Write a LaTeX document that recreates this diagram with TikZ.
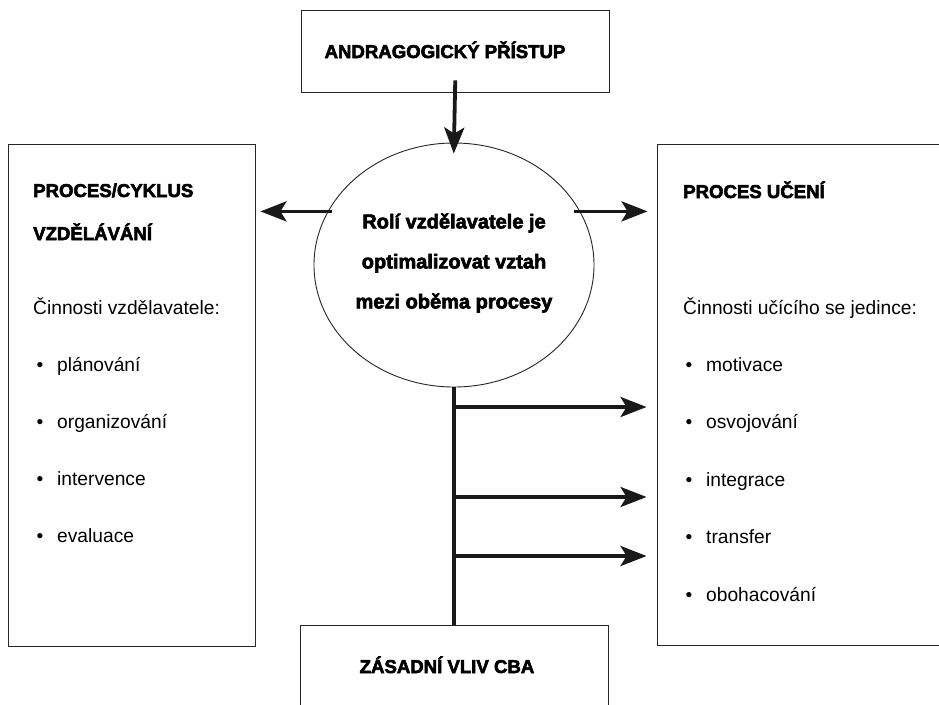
\documentclass[tikz,border=0pt]{standalone}
\usepackage{fontspec}
\setmainfont{Liberation Sans}
\newfontfamily\heavyfont[FakeBold=3]{Liberation Sans}
\usetikzlibrary{
    arrows.meta,
    positioning,
    shapes.geometric
}
\tikzset{
  frame/.style  = {draw=black!85, line width=0.9pt, inner sep=0pt},
  head/.style   = {font=\heavyfont\bfseries\fontsize{18.6}{22}\selectfont,
                   anchor=base west, inner sep=0pt},
  txt/.style    = {font=\fontsize{19.2}{22}\selectfont, anchor=base west,
                   inner sep=0pt},
  dot/.style    = {font=\fontsize{19.2}{22}\selectfont, anchor=base,
                   inner sep=0pt},
  arr/.style    = {-{Stealth[length=26pt, width=20pt, inset=6pt]},
                   line width=3.8pt, black!90},
  link/.style   = {line width=3.8pt, black!90}
}

\begin{document}
\begin{tikzpicture}[x=1pt, y=-1pt]
  \useasboundingbox (0,0) rectangle (939,704);
  \clip (0,0) rectangle (939,704);

  \node[frame, minimum width=308pt, minimum height=82pt] (top) at (455,51) {};
  \node[head, anchor=base] (toptxt) at (445,58) {ANDRAGOGICKÝ PŘÍSTUP};

  \node[frame, ellipse, minimum width=280pt, minimum height=244pt] (role)
       at (454,265) {};
  \node[align=center, inner sep=0pt,
        font=\heavyfont\bfseries\fontsize{20}{40}\selectfont] (roletxt)
       at (454,263) {Rolí vzdělavatele je\\optimalizovat vztah\\mezi oběma procesy};

  \node[frame, minimum width=247pt, minimum height=502pt] (lbox) at (131.5,395) {};
  \node[frame, minimum width=300pt, minimum height=501pt] (rbox) at (807,394.5) {};
  \node[frame, minimum width=308pt, minimum height=94pt] (bot) at (454,672) {};
  \node[head, anchor=base] (bottxt) at (447,673) {ZÁSADNÍ VLIV CBA};

  % left box
  \node[head] (lh1) at (33,197) {PROCES/CYKLUS};
  \node[head] (lh2) at (33,240) {VZDĚLÁVÁNÍ};
  \node[txt] (lsub) at (33,314) {Činnosti vzdělavatele:};
  \foreach \item [count=\i] in {plánování, organizování, intervence, evaluace}
  {
    \node[dot] (ld\i) at (40,371+57.3*\i-57.3) {•};
    \node[txt] (li\i) at (57,371+57.3*\i-57.3) {\item};
  }

  % right box
  \node[head] (rh) at (683,198) {PROCES UČENÍ};
  \node[txt] (rsub) at (683,314) {Činnosti učícího se jedince:};
  \foreach \item [count=\i] in {motivace, osvojování, integrace, transfer,
                                obohacování}
  {
    \node[dot] (rd\i) at (689,371+57.5*\i-57.5) {•};
    \node[txt] (ri\i) at (706,371+57.5*\i-57.5) {\item};
  }

  % connectors
  \draw[arr, shorten <=-12pt, shorten >=-11pt] (top.south) -- (role.north);
  \draw[arr, shorten <=-4pt, shorten >=5pt] (role.157) -- (role.157 -| lbox.east);
  \draw[arr, shorten <=-6pt, shorten >=9pt] (role.23) -- (role.23 -| rbox.west);
  \draw[link] (role.south) -- (bot.north);
  \foreach \y [count=\i] in {407, 497, 556}
  {
    \coordinate (j\i) at (role.south |- 0,\y);
    \draw[arr, shorten >=10pt] (j\i) -- (j\i -| rbox.west);
  }
\end{tikzpicture}
\end{document}
